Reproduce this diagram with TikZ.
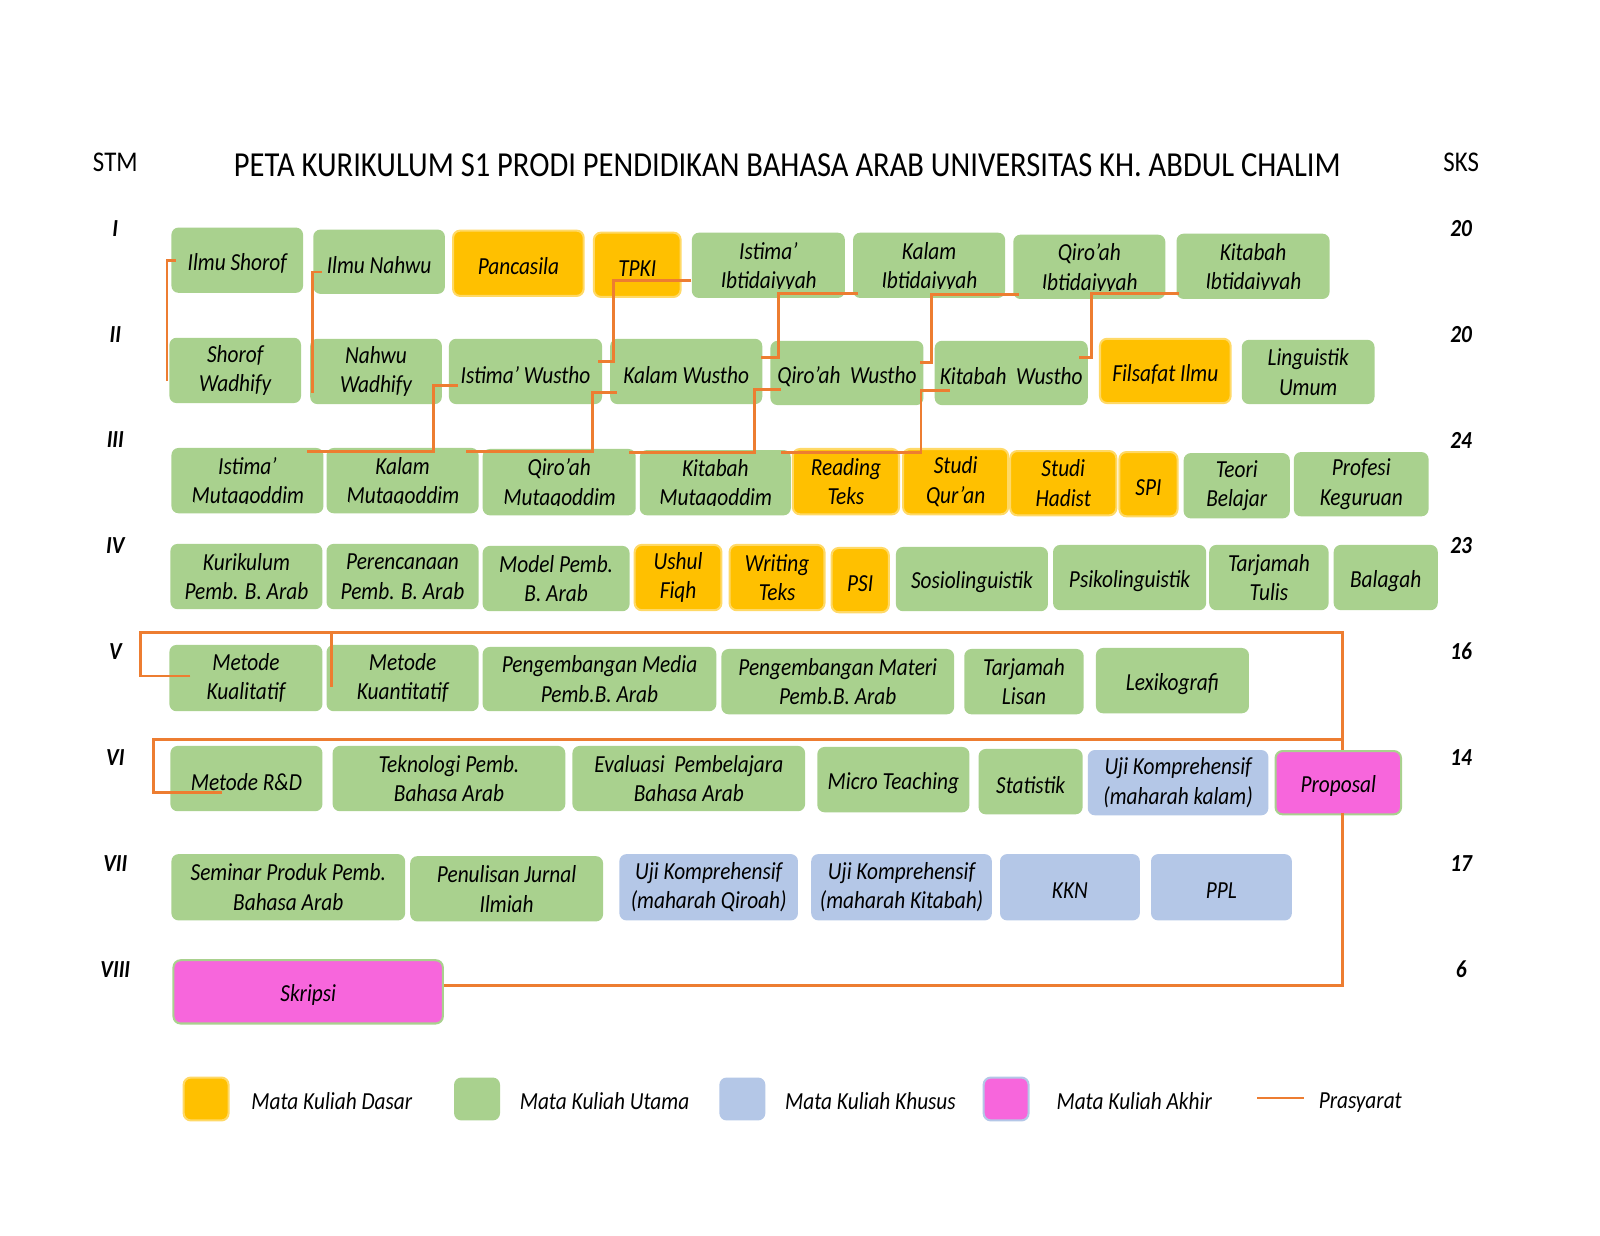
\documentclass[tikz,border=0pt]{standalone}
\usepackage{fontspec}
\setmainfont{Carlito}[FakeStretch=0.87]
\usetikzlibrary{positioning}

\definecolor{hijau}{HTML}{A9D18E}
\definecolor{kuning}{HTML}{FFC000}
\definecolor{kuningmuda}{HTML}{FFD966}
\definecolor{biru}{HTML}{B4C7E7}
\definecolor{merahmuda}{HTML}{F766DC}
\definecolor{jingga}{HTML}{ED7D31}

% kotak mata kuliah dari pojok kiri atas (x1,y1) ke pojok kanan bawah (x2,y2)
\newcommand{\kotak}[7]{\node[#2, minimum width={(#5-#3)*0.5pt}, minimum height={(#6-#4)*0.5pt}] (#1) at ({(#3+#5)/2},{(#4+#6)/2}) {#7};}
% baris kedua yang ekornya terpotong
\newlength{\potlen}
\newcommand{\potong}[1]{\settowidth{\potlen}{#1}\tikz[baseline=0pt]{\clip (0pt,0pt) rectangle (\potlen,1em); \node[inner sep=0pt, minimum width=0pt, minimum height=0pt, draw=none, fill=none, execute at begin node={}, anchor=base west] at (0pt,0pt) {#1};}}

\begin{document}
\begin{tikzpicture}[x=0.5pt, y=-0.5pt,
    kotak/.style={rounded corners=3.5pt, inner sep=1pt, align=center, font=\itshape\fontsize{12}{14.5}\selectfont, execute at begin node={\rule{0pt}{11.5pt}}},
    utama/.style={kotak, fill=hijau},
    dasar/.style={kotak, fill=kuning, draw=kuningmuda, line width=1pt},
    khusus/.style={kotak, fill=biru},
    akhir/.style={kotak, fill=merahmuda, draw=hijau, line width=1pt},
    prasyarat/.style={draw=jingga, line width=1.4pt},
    semester/.style={font=\bfseries\itshape\fontsize{12}{14}\selectfont},
    kepala/.style={font=\fontsize{14}{16}\selectfont},
    judul/.style={font=\fontsize{17.2}{20}\selectfont},
    keterangan/.style={inner sep=0pt, text height=10pt, text depth=0pt, font=\itshape\fontsize{12}{14}\selectfont}]
  \useasboundingbox (0,0) rectangle (1568,1211);
  \fill[white] (0,0) rectangle (1568,1211);

  \node[judul] (judul) at (771.5,162) {PETA KURIKULUM S1 PRODI PENDIDIKAN BAHASA ARAB UNIVERSITAS KH. ABDUL CHALIM};
  \node[kepala] (stm) at (113,159) {STM};
  \node[kepala] (sks) at (1432,159) {SKS};
  \foreach \s/\k [count=\i] in {I/20,II/20,III/24,IV/23,V/16,VI/14,VII/17,VIII/6} {
    \node[semester] (stm-\i) at (113,{120.1+103.7*\i}) {\s};
    \node[semester] (sks-\i) at (1432,{120.1+103.7*\i}) {\k};
  }

  % semester I
  \kotak{shorof1}{utama}{168}{223}{297}{287}{Ilmu Shorof}
  \kotak{nahwu1}{utama}{307}{225}{436}{288}{Ilmu Nahwu}
  \kotak{pancasila}{dasar}{444}{226}{572}{290}{Pancasila}
  \kotak{tpki}{dasar}{582}{228}{667}{291}{TPKI}
  \kotak{istima1}{utama}{678}{228}{828}{292}{Istima’\\\potong{Ibtidaiyyah}}
  \kotak{kalam1}{utama}{836}{228}{985}{292}{Kalam\\\potong{Ibtidaiyyah}}
  \kotak{qiroah1}{utama}{993}{230}{1142}{293}{Qiro’ah\\\potong{Ibtidaiyyah}}
  \kotak{kitabah1}{utama}{1153}{229}{1303}{293}{Kitabah\\\potong{Ibtidaiyyah}}
  % semester II
  \kotak{shorof2}{utama}{166}{331}{295}{395}{Shorof\\Wadhify}
  \kotak{nahwu2}{utama}{304}{332}{433}{396}{Nahwu\\Wadhify}
  \kotak{istima2}{utama}{440}{332}{590}{396}{Istima’ Wustho}
  \kotak{kalam2}{utama}{598}{332}{747}{396}{Kalam Wustho}
  \kotak{qiroah2}{utama}{755}{334}{905}{397}{Qiro’ah\ \ Wustho}
  \kotak{kitabah2}{utama}{916}{334}{1066}{397}{Kitabah\ \ Wustho}
  \kotak{filsafat}{dasar}{1078}{332}{1206}{395}{Filsafat Ilmu}
  \kotak{linguistik}{utama}{1217}{333}{1347}{396}{Linguistik\\Umum}
  % semester III
  \kotak{istima3}{utama}{168}{439}{317}{503}{Istima’\\\potong{Mutaqoddim}}
  \kotak{kalam3}{utama}{320}{439}{469}{503}{Kalam\\\potong{Mutaqoddim}}
  \kotak{qiroah3}{utama}{473}{440}{623}{505}{Qiro’ah\\\potong{Mutaqoddim}}
  \kotak{kitabah3}{utama}{627}{441}{775}{505}{Kitabah\\\potong{Mutaqoddim}}
  \kotak{reading}{dasar}{777}{440}{881}{504}{Reading\\Teks}
  \kotak{quran}{dasar}{885}{440}{988}{504}{Studi\\Qur’an}
  \kotak{hadist}{dasar}{990}{442}{1094}{505}{Studi\\Hadist}
  \kotak{spi}{dasar}{1097}{443}{1154}{506}{SPI}
  \kotak{teori}{utama}{1160}{444}{1264}{508}{Teori\\Belajar}
  \kotak{profesi}{utama}{1268}{443}{1400}{506}{Profesi\\Keguruan}
  % semester IV
  \kotak{kurikulum}{utama}{167}{533}{316}{597}{Kurikulum\\Pemb. B. Arab}
  \kotak{perencanaan}{utama}{320}{533}{469}{597}{Perencanaan\\Pemb. B. Arab}
  \kotak{model}{utama}{473}{535}{617}{599}{Model Pemb.\\B. Arab}
  \kotak{ushul}{dasar}{622}{534}{707}{598}{Ushul\\Fiqh}
  \kotak{writing}{dasar}{715}{534}{808}{598}{Writing\\Teks}
  \kotak{psi}{dasar}{815}{537}{871}{600}{PSI}
  \kotak{sosio}{utama}{878}{536}{1027}{599}{Sosiolinguistik}
  \kotak{psiko}{utama}{1032}{534}{1182}{598}{Psikolinguistik}
  \kotak{tulis}{utama}{1185}{534}{1302}{598}{Tarjamah\\Tulis}
  \kotak{balagah}{utama}{1307}{534}{1409}{598}{Balagah}
  % semester V
  \kotak{kualitatif}{utama}{166}{632}{316}{697}{Metode\\Kualitatif}
  \kotak{kuantitatif}{utama}{320}{632}{469}{697}{Metode\\Kuantitatif}
  \kotak{media}{utama}{473}{634}{702}{697}{Pengembangan Media\\Pemb.B. Arab}
  \kotak{materi}{utama}{707}{636}{935}{700}{Pengembangan Materi\\Pemb.B. Arab}
  \kotak{lisan}{utama}{945}{636}{1062}{700}{Tarjamah\\Lisan}
  \kotak{lexiko}{utama}{1074}{635}{1224}{699}{Lexikografi}
  % semester VI
  \kotak{rnd}{utama}{167}{731}{316}{795}{Metode R\&D}
  \kotak{teknologi}{utama}{326}{731}{554}{795}{Teknologi Pemb.\\Bahasa Arab}
  \kotak{evaluasi}{utama}{561}{731}{789}{795}{Evaluasi\ \ Pembelajara\\Bahasa Arab}
  \kotak{micro}{utama}{801}{732}{950}{796}{Micro Teaching}
  \kotak{statistik}{utama}{959}{734}{1061}{798}{Statistik}
  \kotak{ujikalam}{khusus}{1066}{735}{1243}{799}{Uji Komprehensif\\(maharah kalam)}
  \kotak{proposal}{akhir}{1250}{736}{1373}{798}{Proposal}
  % semester VII
  \kotak{seminar}{utama}{168}{837}{397}{902}{Seminar Produk Pemb.\\Bahasa Arab}
  \kotak{jurnal}{utama}{402}{839}{591}{903}{Penulisan Jurnal\\Ilmiah}
  \kotak{ujiqiroah}{khusus}{607}{837}{782}{902}{Uji Komprehensif\\(maharah Qiroah)}
  \kotak{ujikitabah}{khusus}{795}{837}{972}{902}{Uji Komprehensif\\(maharah Kitabah)}
  \kotak{kkn}{khusus}{980}{837}{1117}{902}{KKN}
  \kotak{ppl}{khusus}{1128}{837}{1266}{902}{PPL}
  % semester VIII
  \kotak{skripsi}{akhir}{170}{941}{434}{1003}{Skripsi}

  % prasyarat
  \draw[prasyarat] ([shift={(5,0)}]shorof1.west) -| ([shift={(-2,10)}]shorof2.west);
  \draw[prasyarat] ([shift={(9,10)}]nahwu1.west) -| ([shift={(3,21)}]nahwu2.west);
  \draw[prasyarat] ([shift={(0,15)}]istima1.west) -- ++(-76,0) |- ([shift={(-4,-10)}]istima2.east);
  \draw[prasyarat] ([shift={(9,14)}]istima2.west) -- ++(-24,0) |- ([shift={(58,4)}]istima3.north);
  \draw[prasyarat] ([shift={(5,28)}]kalam1.west) -- ++(-78,0) |- ([shift={(-2,-14)}]kalam2.east);
  \draw[prasyarat] ([shift={(7,21)}]kalam2.west) -- ++(-24,0) |- ([shift={(62,4)}]kalam3.north);
  \draw[prasyarat] ([shift={(6,27)}]qiroah1.west) -- ++(-86,0) |- ([shift={(-4,-10)}]qiroah2.east);
  \draw[prasyarat] ([shift={(11,16)}]qiroah2.west) -- ++(-26,0) |- ([shift={(68,4)}]qiroah3.north);
  \draw[prasyarat] ([shift={(3,27)}]kitabah1.west) -- ++(-86,0) |- ([shift={(-9,-15)}]kitabah2.east);
  \draw[prasyarat] ([shift={(15,17)}]kitabah2.west) -- ++(-28,0) |- ([shift={(64,3)}]kitabah3.north);
  \draw[prasyarat] ([shift={(21,-2)}]kualitatif.west) -- ++(-49,0) |- ([shift={(4.5,-115)}]proposal.north) -- ([shift={(4.5,0)}]proposal.north);
  \draw[prasyarat] ([shift={(5.5,8.5)}]kuantitatif.west) -- ([shift={(5.5,-11)}]kuantitatif.north west);
  \draw[prasyarat] ([shift={(51,14)}]rnd.west) -- ++(-67,0) |- ([shift={(4.5,-10.5)}]proposal.north);
  \draw[prasyarat] ([shift={(4.5,-2.5)}]proposal.south) |- ([shift={(0,-6.5)}]skripsi.east);

  % keterangan
  \kotak{lgdasar}{dasar}{180}{1056}{224}{1098}{}
  \kotak{lgutama}{utama}{445}{1056}{490}{1098}{}
  \kotak{lgkhusus}{khusus}{705}{1056}{750}{1098}{}
  \kotak{lgakhir}{akhir, draw=biru}{964}{1056}{1008}{1098}{}
  \node[keterangan, right=10.5pt of lgdasar] (tdasar) {Mata Kuliah Dasar};
  \node[keterangan, right=9.3pt of lgutama] (tutama) {Mata Kuliah Utama};
  \node[keterangan, right=9.3pt of lgkhusus] (tkhusus) {Mata Kuliah Khusus};
  \node[keterangan, right=13pt of lgakhir] (takhir) {Mata Kuliah Akhir};
  \coordinate (lgp1) at (1232,1076);
  \coordinate (lgp2) at (1278,1076);
  \draw[prasyarat] (lgp1) -- (lgp2);
  \node[keterangan, right=7pt of lgp2] (tprasyarat) {Prasyarat};
\end{tikzpicture}
\end{document}
